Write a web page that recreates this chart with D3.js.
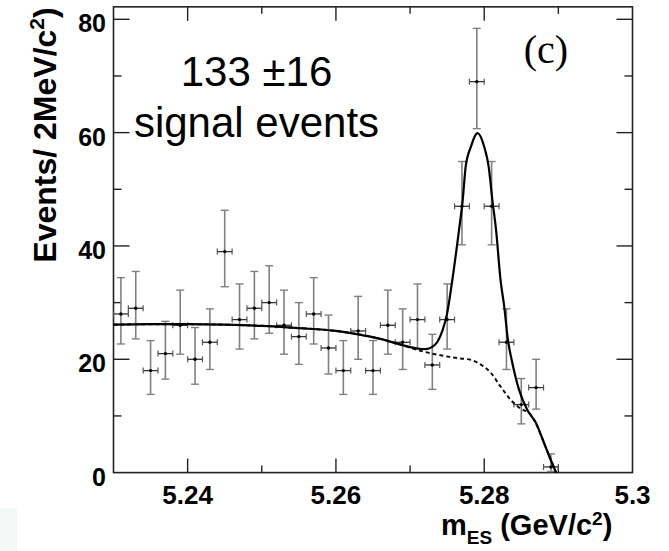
<!DOCTYPE html>
<html>
<head>
<meta charset="utf-8">
<script src="https://cdn.jsdelivr.net/npm/d3@7"></script>
<style>
  body { margin: 0; background: #fff; }
  svg { display: block; }
  text { font-family: Arial, "Liberation Sans", Helvetica, sans-serif; }
</style>
</head>
<body>
<div id="chart"></div>
<script>
// bin centres (GeV/c^2), 2 MeV bins
const binCenters = [5.231, 5.233, 5.235, 5.237, 5.239, 5.241, 5.243, 5.245, 5.247, 5.249,
    5.251, 5.253, 5.255, 5.257, 5.259, 5.261, 5.263, 5.265, 5.267, 5.269,
    5.271, 5.273, 5.275, 5.277, 5.279, 5.281, 5.283, 5.285, 5.287, 5.289];
const counts = [28, 29, 18, 21, 26, 20, 23, 39, 27, 29,
    30, 26, 24, 28, 22, 18, 25, 18, 26, 23,
    27, 19, 27, 47, 69, 47, 23, 12, 15, 1];
// asymmetric (Poisson) errors
const errLow = [5.3, 5.4, 4.2, 4.5, 5.1, 4.4, 4.8, 6.2, 5.2, 5.4,
    5.4, 5.1, 4.9, 5.3, 4.6, 4.2, 5.0, 4.2, 5.1, 4.8,
    5.2, 4.3, 5.2, 6.8, 8.3, 6.8, 4.8, 3.4, 3.8, 0.8];
const errHigh = [6.4, 6.5, 5.3, 5.7, 6.2, 5.6, 5.9, 7.3, 6.3, 6.5,
    6.5, 6.2, 6.0, 6.4, 5.8, 5.3, 6.1, 5.3, 6.2, 5.9,
    6.3, 5.4, 6.3, 7.9, 9.4, 7.9, 5.9, 4.6, 5.0, 2.3];

// fit curves sampled from the figure
const bgX = [5.2300, 5.2350, 5.2400, 5.2450, 5.2500, 5.2550, 5.2600, 5.2630, 5.2660, 5.2690,
    5.2714, 5.2741, 5.2764, 5.2782, 5.2795, 5.2809, 5.2822, 5.2836, 5.2849, 5.2863,
    5.2870, 5.2879, 5.2888, 5.2897];
const bgY = [26.1, 26.2, 26.2, 26.1, 25.9, 25.5, 25.0, 24.4, 23.6, 22.5,
    21.5, 20.7, 20.2, 19.9, 19.1, 17.6, 15.2, 12.8, 11.3, 10.2,
    8.6, 5.8, 2.8, 0];
const fitX = [5.2300, 5.2350, 5.2400, 5.2450, 5.2500, 5.2550, 5.2600, 5.2630, 5.2660, 5.2690,
    5.2710, 5.2721, 5.2730, 5.2737, 5.2744, 5.2750, 5.2757, 5.2766, 5.2771, 5.2775,
    5.2782, 5.2791, 5.2800, 5.2806, 5.2811, 5.2816, 5.2822, 5.2827, 5.2832, 5.2838,
    5.2847, 5.2858, 5.2870, 5.2879, 5.2888, 5.2897];
const fitY = [26.1, 26.2, 26.2, 26.1, 25.9, 25.5, 25.0, 24.4, 23.6, 22.5,
    21.9, 21.8, 22.2, 23.1, 25.2, 28.1, 34.0, 42.8, 48.1, 54.0,
    57.5, 59.9, 57.5, 54.0, 48.1, 42.8, 34.0, 29.3, 23.4, 19.3,
    14.6, 11.1, 8.7, 5.8, 2.8, 0];

const xTicks = [5.24, 5.26, 5.28, 5.3];
const xMinor = [5.25, 5.27, 5.29];
const yTicks = [0, 20, 40, 60, 80];
const yMinor = [10, 30, 50, 70];

const W = 669, H = 551;
const x = d3.scaleLinear().domain([5.23, 5.30]).range([113.5, 632.5]);
const y = d3.scaleLinear().domain([0, 80]).range([472.6, 19.3]);
const yTop = 82.2;

const svg = d3.select("#chart").append("svg")
    .attr("width", W).attr("height", H);

// faint patch bottom-left
svg.append("rect").attr("x", 0).attr("y", 508).attr("width", 17).attr("height", 43)
    .attr("fill", "#f3f7f5");

// frame
svg.append("rect")
    .attr("x", x(5.23)).attr("y", y(yTop))
    .attr("width", x(5.30) - x(5.23)).attr("height", y(0) - y(yTop))
    .attr("fill", "none").attr("stroke", "#222").attr("stroke-width", 1.6);

// ticks (inward, on all four sides)
const tg = svg.append("g").attr("stroke", "#222").attr("stroke-width", 1.4);
xTicks.concat(xMinor).forEach(v => {
    const len = xTicks.includes(v) ? 14 : 7;
    if (v >= 5.2999) return;
    tg.append("line").attr("x1", x(v)).attr("x2", x(v)).attr("y1", y(0)).attr("y2", y(0) - len);
    tg.append("line").attr("x1", x(v)).attr("x2", x(v)).attr("y1", y(yTop)).attr("y2", y(yTop) + len);
});
yTicks.concat(yMinor).forEach(v => {
    const len = yTicks.includes(v) ? 16 : 8;
    if (v === 0) return;
    tg.append("line").attr("x1", x(5.23)).attr("x2", x(5.23) + len).attr("y1", y(v)).attr("y2", y(v));
    tg.append("line").attr("x1", x(5.30)).attr("x2", x(5.30) - len).attr("y1", y(v)).attr("y2", y(v));
});

// tick labels
svg.append("g").selectAll("text").data(xTicks).join("text")
    .attr("x", d => x(d)).attr("y", 504)
    .attr("text-anchor", "middle")
    .attr("font-size", 26).attr("font-weight", "bold")
    .text(d => d === 5.3 ? "5.3" : d3.format(".2f")(d));
svg.append("g").selectAll("text").data(yTicks).join("text")
    .attr("x", 106).attr("y", d => y(d) + 13)
    .attr("text-anchor", "end")
    .attr("font-size", 25).attr("font-weight", "bold")
    .text(d => d);

// axis titles
const xt = svg.append("text").attr("x", 441).attr("y", 535)
    .attr("font-size", 29).attr("font-weight", "bold");
xt.append("tspan").text("m");
xt.append("tspan").attr("dy", 9).attr("font-size", 19).text("ES");
xt.append("tspan").attr("dy", -9).text(" (GeV/c");
xt.append("tspan").attr("dy", -10).attr("font-size", 19).text("2");
xt.append("tspan").attr("dy", 10).text(")");

const yt = svg.append("text")
    .attr("transform", "translate(56,135) rotate(-90)")
    .attr("text-anchor", "middle")
    .attr("font-size", 32).attr("font-weight", "bold");
yt.append("tspan").text("Events/ 2MeV/c");
yt.append("tspan").attr("dy", -12).attr("font-size", 21).text("2");
yt.append("tspan").attr("dy", 12).text(")");

// annotation
svg.append("text").attr("x", 256.5).attr("y", 86).attr("text-anchor", "middle")
    .attr("font-size", 42).text("133 \u00b116");
svg.append("text").attr("x", 256.5).attr("y", 137).attr("text-anchor", "middle")
    .attr("font-size", 42).text("signal events");
svg.append("text").attr("x", 546).attr("y", 63).attr("text-anchor", "middle")
    .style("font-family", "'Liberation Serif', 'Times New Roman', serif")
    .attr("font-size", 40).text("(c)");

// data points
const pts = binCenters.map((c, i) => ({ c, n: counts[i], lo: errLow[i], hi: errHigh[i] }));
const half = 0.001;
const dg = svg.append("g");
pts.forEach(p => {
    const cx = x(p.c), cy = y(p.n);
    const top = y(p.n + p.hi), bot = Math.min(y(Math.max(p.n - p.lo, 0)), y(0));
    dg.append("line").attr("x1", cx).attr("x2", cx).attr("y1", top).attr("y2", bot)
        .attr("stroke", "#808080").attr("stroke-width", 1.6);
    [top, bot].forEach(yy => {
        if (yy >= y(0) - 0.5) return;
        dg.append("line").attr("x1", cx - 4).attr("x2", cx + 4).attr("y1", yy).attr("y2", yy)
            .attr("stroke", "#808080").attr("stroke-width", 1.4);
    });
    dg.append("line").attr("x1", x(p.c - half)).attr("x2", x(p.c + half)).attr("y1", cy).attr("y2", cy)
        .attr("stroke", "#333").attr("stroke-width", 1.3);
    [p.c - half, p.c + half].forEach(e => {
        dg.append("line").attr("x1", x(e)).attr("x2", x(e)).attr("y1", cy - 3).attr("y2", cy + 3)
            .attr("stroke", "#555").attr("stroke-width", 1.2);
    });
    dg.append("circle").attr("cx", cx).attr("cy", cy).attr("r", 1.7).attr("fill", "#000");
});

// curves
const line = d3.line().x(d => x(d[0])).y(d => y(d[1])).curve(d3.curveMonotoneX);
svg.append("path").datum(bgX.map((v, i) => [v, bgY[i]]))
    .attr("d", line).attr("fill", "none").attr("stroke", "#111")
    .attr("stroke-width", 2).attr("stroke-dasharray", "4,3");
svg.append("path").datum(fitX.map((v, i) => [v, fitY[i]]))
    .attr("d", line).attr("fill", "none").attr("stroke", "#000")
    .attr("stroke-width", 2.2);
</script>
</body>
</html>
